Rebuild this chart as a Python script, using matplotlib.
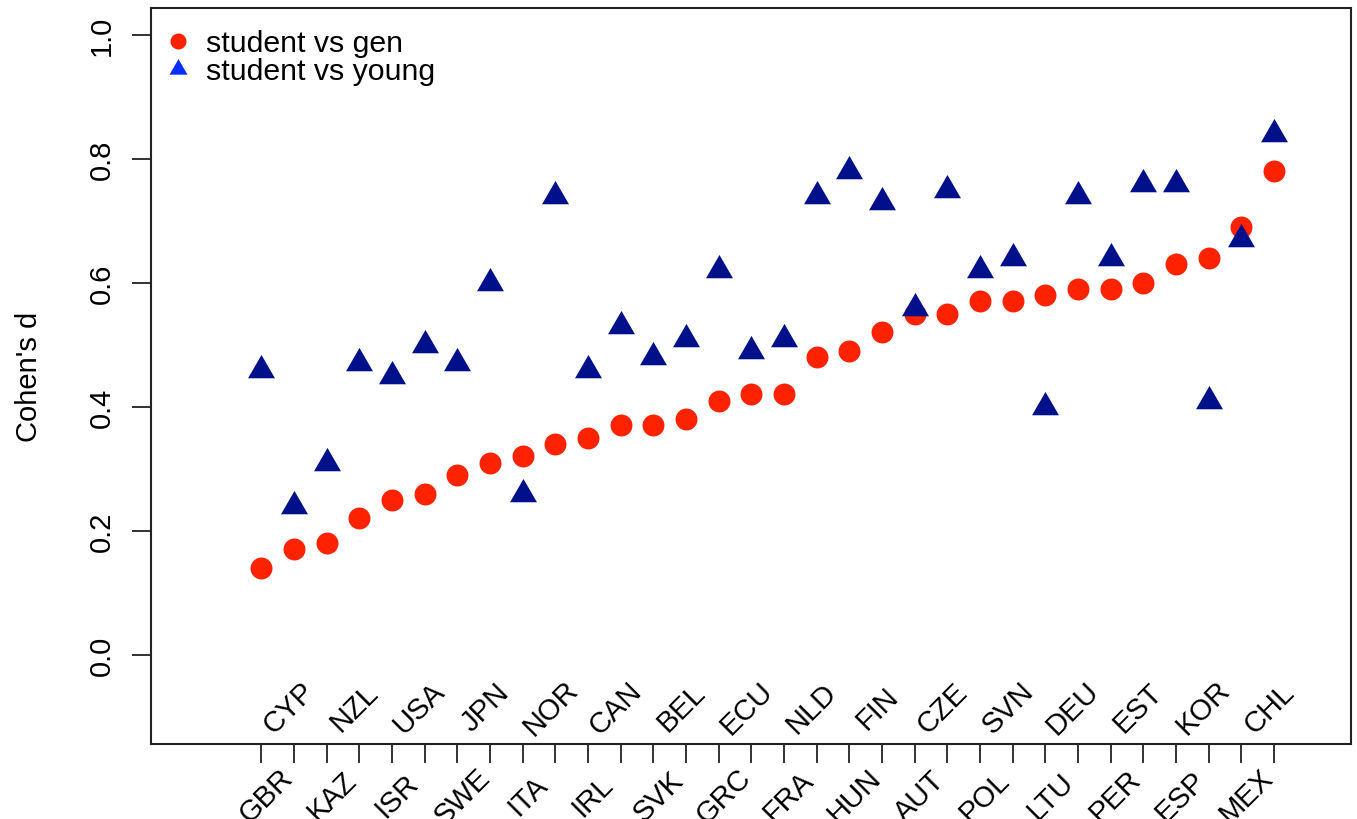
import matplotlib
matplotlib.use("Agg")
import matplotlib.pyplot as plt
from matplotlib.lines import Line2D
from matplotlib.path import Path

countries = ["GBR", "CYP", "KAZ", "NZL", "ISR", "USA", "SWE", "JPN",
             "ITA", "NOR", "IRL", "CAN", "SVK", "BEL", "GRC", "ECU",
             "FRA", "NLD", "HUN", "FIN", "AUT", "CZE", "POL", "SVN",
             "LTU", "DEU", "PER", "EST", "ESP", "KOR", "MEX", "CHL"]
student_vs_gen = [0.14, 0.17, 0.18, 0.22, 0.25, 0.26, 0.29, 0.31,
                  0.32, 0.34, 0.35, 0.37, 0.37, 0.38, 0.41, 0.42,
                  0.42, 0.48, 0.49, 0.52, 0.55, 0.55, 0.57, 0.57,
                  0.58, 0.59, 0.59, 0.60, 0.63, 0.64, 0.69, 0.78]
student_vs_young = [0.46, 0.24, 0.31, 0.47, 0.45, 0.50, 0.47, 0.60,
                    0.26, 0.74, 0.46, 0.53, 0.48, 0.51, 0.62, 0.49,
                    0.51, 0.74, 0.78, 0.73, 0.56, 0.75, 0.62, 0.64,
                    0.40, 0.74, 0.64, 0.76, 0.76, 0.41, 0.67, 0.84]
y_ticks = [0.0, 0.2, 0.4, 0.6, 0.8, 1.0]

plt.rcParams['font.family'] = ['Liberation Sans', 'DejaVu Sans']
fs = 21

# R style triangle (pch 17): centred on its centroid
tri = Path([(0, 1), (-0.866, -0.5), (0.866, -0.5), (0, 1)],
           [Path.MOVETO, Path.LINETO, Path.LINETO, Path.CLOSEPOLY])

fig = plt.figure(figsize=(13.57, 8.2), dpi=100)
ax = fig.add_axes([0.1116, 0.0915, 0.9956 - 0.1116, 0.9896 - 0.0915])

x = list(range(1, len(countries) + 1))
ax.plot(x, student_vs_gen, linestyle='none', marker='o', markersize=15.8,
        color='#FF2200', markeredgewidth=0, zorder=3)
ax.plot(x, student_vs_young, linestyle='none', marker=tri, markersize=22.4,
        color='#00108B', markeredgewidth=0, zorder=4)

ax.set_xlim(-1 - 0.04 * 34, 33 + 0.04 * 34)
ax.set_ylim(-0.1 - 0.044, 1 + 0.044)

ax.set_xticks(x)
ax.set_xticklabels([])
ax.set_yticks(y_ticks)
ax.set_yticklabels(["%.1f" % v for v in y_ticks], rotation=90, va='center',
                   fontsize=fs)
ax.tick_params(axis='both', direction='out', length=13.5, width=1.3,
               color='#222222')
ax.tick_params(axis='y', pad=12)
for s in ax.spines.values():
    s.set_linewidth(1.5)
    s.set_color('#222222')

# alternating country labels, R style
for i, name in enumerate(countries):
    if i % 2 == 1:
        ax.text(x[i] - 0.15, -0.085, name, rotation=45, ha='center',
                va='center', fontsize=fs)
    else:
        ax.text(x[i] + 0.15, -0.227, name, rotation=45, ha='center',
                va='center', fontsize=fs, clip_on=False)

fig.text(29 / 1357, 1 - 376.7 / 820, "Cohen's d", rotation=90, ha='center',
         va='center', fontsize=fs)

handles = [Line2D([], [], linestyle='none', marker='o', markersize=11.5,
                  color='#FF2200', markeredgewidth=0),
           Line2D([], [], linestyle='none', marker=tri, markersize=15,
                  color='#0A2DFF', markeredgewidth=0)]
ax.legend(handles, ["student vs gen", "student vs young"], loc='upper left',
          bbox_to_anchor=(0.0092, 0.9705), frameon=False, fontsize=21.8,
          borderpad=0, borderaxespad=0, handlelength=1.0, handletextpad=0.45,
          labelspacing=0.0)

fig.savefig("out.png", dpi=100)
